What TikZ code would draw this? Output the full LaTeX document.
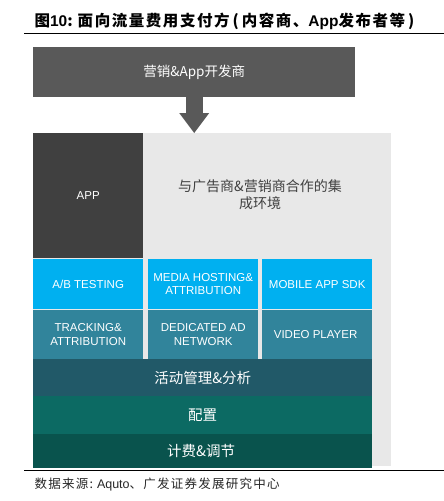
\documentclass[tikz,border=0pt]{standalone}
\usepackage{fontspec}
\setmainfont{Liberation Sans}
\newfontfamily\cjk{Noto Sans CJK SC}
\newfontfamily\cjkwide{Noto Sans CJK SC}[LetterSpace=10]
\usetikzlibrary{arrows.meta, positioning}

\definecolor{devgray}{HTML}{595959}
\definecolor{appgray}{HTML}{404040}
\definecolor{envgray}{HTML}{E8E8E8}
\definecolor{skyblk}{HTML}{00B0F0}
\definecolor{tealblk}{HTML}{31849B}
\definecolor{mgmtblk}{HTML}{215968}
\definecolor{confblk}{HTML}{0C6A63}
\definecolor{billblk}{HTML}{09534D}

\begin{document}
\begin{tikzpicture}[x=1pt, y=-1pt,
    blk/.style={rectangle, inner sep=0pt, anchor=north west, text=white, align=center},
    cell/.style={blk, minimum width=110pt, font=\fontsize{11.5}{13.5}\selectfont},
    band/.style={blk, minimum width=339pt, font=\cjk\fontsize{14.5}{16}\selectfont},
    rule/.style={line width=1pt}]
\useasboundingbox (0,0) rectangle (444,501);

% title and rules
\node[anchor=west, font=\cjkwide\bfseries\fontsize{15.5}{18}\selectfont] (title) at (31,21)
    {图{\rmfamily\bfseries 10}:\hspace{5pt}面向流量费用支付方\hspace{3pt}(\hspace{3pt}内容商、{\rmfamily\bfseries App}发布者等\hspace{3pt})};
\draw[rule] (24,33) -- (444,33);
\draw[rule] (24,470) -- (444,470);

% payer on top
\node[blk, fill=devgray, minimum width=322pt, minimum height=50pt,
    font=\cjk\fontsize{13.5}{15}\selectfont] (dev) at (33,47) {营销\&App开发商};

% integration environment
\node[blk, fill=envgray, minimum width=358pt, minimum height=333pt] (env) at (33,133) {};
\node[blk, fill=appgray, minimum width=110pt, minimum height=125pt,
    font=\fontsize{11.5}{13.5}\selectfont] (app) at (33,133) {APP};
\node[text=appgray, align=center, font=\cjk\fontsize{14}{17}\selectfont] (envtxt) at (260,195)
    {与广告商\&营销商合作的集\\成环境};

\draw[devgray, line width=17pt, -{Triangle[length=20pt, width=30pt, line width=0pt]}]
    (dev.south) -- (env.north -| dev.south);

% service cells
\foreach \name/\col/\x/\y/\h/\txt in {
    ab/skyblk/33/259/50/{A/B TESTING},
    media/skyblk/148/259/50/{MEDIA HOSTING\&\\ATTRIBUTION},
    sdk/skyblk/262/259/50/{MOBILE APP SDK},
    track/tealblk/33/310/49/{TRACKING\&\\ATTRIBUTION},
    adnet/tealblk/148/310/49/{DEDICATED AD\\NETWORK},
    video/tealblk/262/310/49/{VIDEO PLAYER}
} {
    \node[cell, fill=\col, minimum height=\h pt] (\name) at (\x,\y) {\txt};
}

% bottom bands
\foreach \name/\col/\y/\h/\txt in {
    mgmt/mgmtblk/359/37/{活动管理\&分析},
    conf/confblk/396/38/{配置},
    bill/billblk/434/34/{计费\&调节}
} {
    \node[band, fill=\col, minimum height=\h pt] (\name) at (33,\y) {\txt};
}

% source
\node[anchor=west, text=black!85, font=\cjkwide\fontsize{12.5}{14}\selectfont] (src) at (31,484)
    {数据来源:\hspace{4pt}{\rmfamily Aquto}、广发证券发展研究中心};
\end{tikzpicture}
\end{document}
